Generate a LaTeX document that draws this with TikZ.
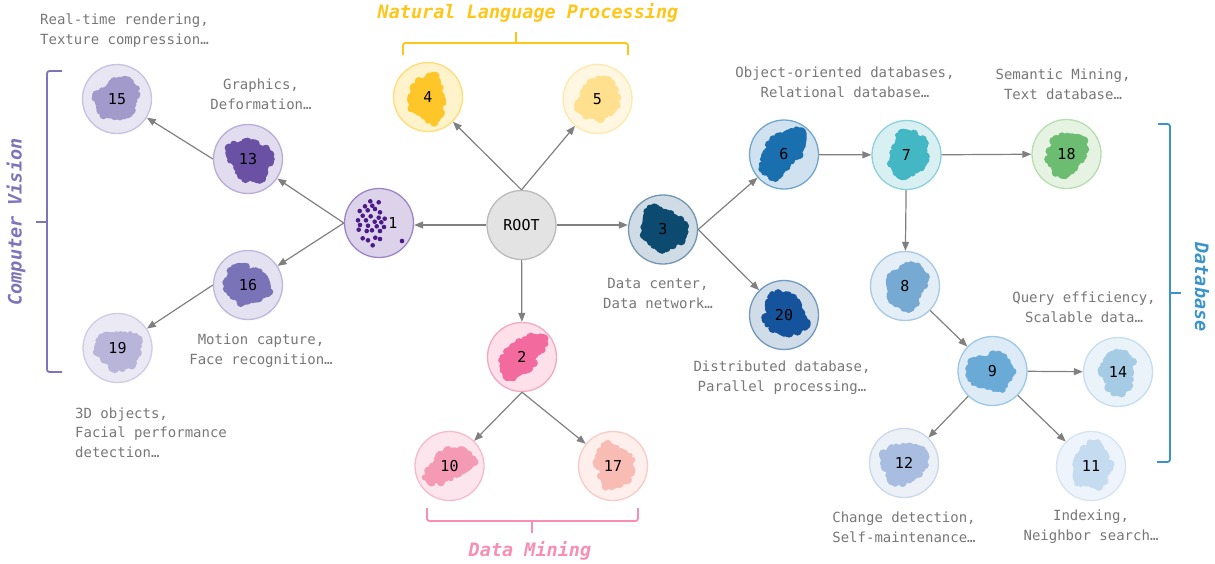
\documentclass[tikz,border=0pt]{standalone}
\usepackage{fontspec}
\setmainfont{DejaVu Sans Mono}
\setmonofont{DejaVu Sans Mono}
\usetikzlibrary{arrows.meta}

\pgfdeclarelayer{back}
\pgfsetlayers{back,main}

% palette
\definecolor{arrowgray}{HTML}{808080}
\definecolor{notegray}{HTML}{777777}
\definecolor{nlpc}{HTML}{FFC61A}
\definecolor{cvc}{HTML}{7D74B9}
\definecolor{dbc}{HTML}{3A93C9}
\definecolor{dmc}{HTML}{F78FB0}
% node fill / border / cloud
\definecolor{f15}{HTML}{E8E6F2}\definecolor{b15}{HTML}{C8C1E0}\definecolor{k15}{HTML}{A29ACA}
\definecolor{f13}{HTML}{E1DCEE}\definecolor{b13}{HTML}{B9ADD7}\definecolor{k13}{HTML}{6A51A3}
\definecolor{f1}{HTML}{DCD3EA}\definecolor{b1}{HTML}{9E84C6}\definecolor{k1}{HTML}{4B1A88}
\definecolor{f16}{HTML}{E4E2F1}\definecolor{b16}{HTML}{BEB8DC}\definecolor{k16}{HTML}{7B73B8}
\definecolor{f19}{HTML}{EAE9F4}\definecolor{b19}{HTML}{D0CCE5}\definecolor{k19}{HTML}{B8B4DA}
\definecolor{f4}{HTML}{FFF3CC}\definecolor{b4}{HTML}{FFDC75}\definecolor{k4}{HTML}{FFC629}
\definecolor{f5}{HTML}{FFF7E1}\definecolor{b5}{HTML}{FFE8AC}\definecolor{k5}{HTML}{FFE08F}
\definecolor{froot}{HTML}{E3E3E3}\definecolor{broot}{HTML}{BBBBBB}
\definecolor{f3}{HTML}{CFDCE6}\definecolor{b3}{HTML}{7396B1}\definecolor{k3}{HTML}{0D4A70}
\definecolor{f2}{HTML}{FDE0EA}\definecolor{b2}{HTML}{F5A8C2}\definecolor{k2}{HTML}{F36A9E}
\definecolor{f10}{HTML}{FCE5EC}\definecolor{b10}{HTML}{F7BACC}\definecolor{k10}{HTML}{F59AB4}
\definecolor{f17}{HTML}{FEEEEC}\definecolor{b17}{HTML}{FACAC5}\definecolor{k17}{HTML}{F8BCB5}
\definecolor{f6}{HTML}{D0E2EF}\definecolor{b6}{HTML}{72A6CD}\definecolor{k6}{HTML}{1A6FAF}
\definecolor{f7}{HTML}{D9F0F3}\definecolor{b7}{HTML}{8DD1DB}\definecolor{k7}{HTML}{43B7C4}
\definecolor{f18}{HTML}{E6F3E3}\definecolor{b18}{HTML}{B7DEAF}\definecolor{k18}{HTML}{6CBD72}
\definecolor{f20}{HTML}{D0DCE8}\definecolor{b20}{HTML}{7199BF}\definecolor{k20}{HTML}{15549C}
\definecolor{f8}{HTML}{E3EEF7}\definecolor{b8}{HTML}{A9C9E3}\definecolor{k8}{HTML}{77AAD2}
\definecolor{f9}{HTML}{DDEBF6}\definecolor{b9}{HTML}{9EC7E5}\definecolor{k9}{HTML}{6AAAD7}
\definecolor{f14}{HTML}{EAF3FA}\definecolor{b14}{HTML}{C5DDEF}\definecolor{k14}{HTML}{A5CCE4}
\definecolor{f12}{HTML}{ECF1F8}\definecolor{b12}{HTML}{CBD8E9}\definecolor{k12}{HTML}{A8BDDF}
\definecolor{f11}{HTML}{EEF4FB}\definecolor{b11}{HTML}{D5E3F2}\definecolor{k11}{HTML}{C5DBF0}

% disc behind a cluster node
\newcommand\disc[2]{\fill[#2] (#1.center) circle [radius=34.5pt];}

% irregular point-cloud blob: node, colour, seed, x radius, y radius, rotation, offset
\newcommand\cloud[7]{%
  \begin{scope}[shift={(#1.center)}, shift={(#7)}, rotate=#6]
    \pgfmathsetseed{#3}%
    \pgfmathsetmacro\pha{360*rnd}%
    \pgfmathsetmacro\phb{360*rnd}%
    \pgfmathsetmacro\phc{360*rnd}%
    \fill[#2] plot[domain=0:355, samples=72, smooth cycle, variable=\t]
      ({#4*(1+0.11*sin(2*\t+\pha)+0.09*sin(3*\t+\phb)+0.06*sin(5*\t+\phc))*cos(\t)},
       {#5*(1+0.11*sin(2*\t+\pha)+0.09*sin(3*\t+\phb)+0.06*sin(5*\t+\phc))*sin(\t)});
    \foreach \k in {1,...,46}{%
      \pgfmathsetmacro\ang{360*rnd}%
      \pgfmathsetmacro\mo{(0.86+0.12*rnd)*(1+0.11*sin(2*\ang+\pha)+0.09*sin(3*\ang+\phb)+0.06*sin(5*\ang+\phc))}%
      \pgfmathsetmacro\sz{2+2.6*rnd}%
      \fill[#2] ({\mo*#4*cos(\ang)},{\mo*#5*sin(\ang)}) circle [radius=\sz pt];
    }%
  \end{scope}}

\tikzset{
  cl/.style={circle, minimum size=69pt, inner sep=0pt, line width=1.3pt,
    font=\fontsize{15}{15}\selectfont, text=black},
  dot/.style={fill=k1},
  arr/.style={draw=arrowgray, line width=1.2pt, -{Triangle[length=9pt,width=7pt]}},
  note/.style={text=notegray, font=\fontsize{14}{19.5}\selectfont, align=center, inner sep=0pt},
  title/.style={font=\fontsize{18.5}{20}\selectfont\bfseries\itshape, inner sep=0pt},
  brace/.style={line width=1.8pt, rounded corners=2.5pt}
}

\begin{document}
\begin{tikzpicture}[x=1pt,y=-1pt]
\useasboundingbox (0,0) rectangle (1215,563);

% ---- cluster nodes ----
\node[cl, fill=froot, draw=broot] (root) at (521.5,225) {ROOT};

\node[cl, draw=b1] (n1) at (379,223) {\hspace*{28pt}1};
\node[cl, draw=b13] (n13) at (248,159) {13};
\node[cl, draw=b15] (n15) at (117,99) {15};
\node[cl, draw=b16] (n16) at (248,285) {16};
\node[cl, draw=b19] (n19) at (117.5,348) {19};
\node[cl, draw=b4] (n4) at (428,97) {4};
\node[cl, draw=b5] (n5) at (597.5,99) {5};
\node[cl, draw=b2] (n2) at (522,357) {2};
\node[cl, draw=b10] (n10) at (449.5,466) {10};
\node[cl, draw=b17] (n17) at (613,466) {17};
\node[cl, draw=b3] (n3) at (663,229.5) {3};
\node[cl, draw=b6] (n6) at (784,154.5) {6};
\node[cl, draw=b7] (n7) at (906.5,155) {7};
\node[cl, draw=b18] (n18) at (1066.5,154) {18};
\node[cl, draw=b20] (n20) at (784,315) {20};
\node[cl, draw=b8] (n8) at (905,286) {8};
\node[cl, draw=b9] (n9) at (992.5,371) {9};
\node[cl, draw=b14] (n14) at (1118,372) {14};
\node[cl, draw=b12] (n12) at (904,463) {12};
\node[cl, draw=b11] (n11) at (1091,466) {11};

% ---- discs and point clouds underneath ----
\begin{pgfonlayer}{back}
  \disc{n1}{f1}
  \foreach \p in {(-8.7,-21.7),(-0.3,-20.7),(-14,-16.7),(-6.7,-17.3),(-19.3,-12),
      (-11.3,-12.7),(-4,-14),(1,-10.7),(-16.3,-7.3),(-8.3,-6.7),(-0.3,-5.3),(5.7,-4.3),
      (-21,-2.7),(-13,-2.7),(-4.3,-1.3),(2.3,-0.7),(-19,2),(-11,2.7),(-2.3,3.3),(5,4),
      (-20.3,6.7),(-12.3,8),(-7,7.3),(1,8),(-16.3,15.3),(-11,17.3),(-3.7,14.7),(1,16),
      (-6.3,22.3),(23,18)}
    \fill[dot] ([shift={\p}]n1.center) circle [radius=2.3pt];

  \disc{n13}{f13}\cloud{n13}{k13}{13}{21}{21}{0}{2,1}
  \disc{n15}{f15}\cloud{n15}{k15}{15}{20}{21}{0}{0,0}
  \disc{n16}{f16}\cloud{n16}{k16}{16}{21}{20}{0}{-1,-1}
  \disc{n19}{f19}\cloud{n19}{k19}{19}{20}{21}{0}{1,2}
  \disc{n4}{f4}\cloud{n4}{k4}{4}{19}{21}{0}{-1,2}
  \disc{n5}{f5}\cloud{n5}{k5}{5}{20}{21}{0}{1,0}
  \disc{n2}{f2}\cloud{n2}{k2}{2}{27}{15}{40}{0,-1}
  \disc{n10}{f10}\cloud{n10}{k10}{10}{26}{14}{35}{0,0}
  \disc{n17}{f17}\cloud{n17}{k17}{17}{20}{20}{0}{1,0}
  \disc{n3}{f3}\cloud{n3}{k3}{3}{21}{22}{0}{0,0}
  \disc{n6}{f6}\cloud{n6}{k6}{6}{27}{17}{52}{-1,-2}
  \disc{n7}{f7}\cloud{n7}{k7}{21}{20}{22}{0}{2,0}
  \disc{n18}{f18}\cloud{n18}{k18}{18}{19}{21}{0}{0,0}
  \disc{n20}{f20}\cloud{n20}{k20}{20}{21}{21}{0}{1,0}
  \disc{n8}{f8}\cloud{n8}{k8}{8}{20}{22}{0}{1,0}
  \disc{n9}{f9}\cloud{n9}{k9}{9}{21}{20}{0}{-1,1}
  \disc{n14}{f14}\cloud{n14}{k14}{14}{17}{20}{0}{0,0}
  \disc{n12}{f12}\cloud{n12}{k12}{12}{21}{21}{0}{0,0}
  \disc{n11}{f11}\cloud{n11}{k11}{11}{20}{21}{0}{1,0}
\end{pgfonlayer}

% ---- connectors ----
\draw[arr] (root.west) -- (root.west -| n1.east);
\draw[arr] (root.north) -- (n4);
\draw[arr] (root.north) -- (n5);
\draw[arr] (root.east) -- (root.east -| n3.west);
\draw[arr] (root) -- (n2);
\draw[arr] (n1.west) -- (n13);
\draw[arr] (n1.west) -- (n16);
\draw[arr] (n13.west) -- (n15);
\draw[arr] (n16.west) -- (n19);
\draw[arr] (n2.south) -- (n10);
\draw[arr] (n2.south) -- (n17);
\draw[arr] (n3.east) -- (n6);
\draw[arr] (n3.east) -- (n20);
\draw[arr] (n6) -- (n7);
\draw[arr] (n7) -- (n18);
\draw[arr] (n7) -- (n8);
\draw[arr] (n8) -- (n9);
\draw[arr] (n9) -- (n14);
\draw[arr] (n9) -- (n12);
\draw[arr] (n9) -- (n11);

% ---- notes ----
\node[note] (t15) at (124.5,30.5) {Real-time rendering,\\Texture compression…};
\node[note] (t13) at (261,94.5) {Graphics,\\Deformation…};
\node[note] (t16) at (261,350.5) {Motion capture,\\Face recognition…};
\node[note, align=left, anchor=west] (t19) at (75,432.5) {3D objects,\\Facial performance\\detection…};
\node[note] (t3) at (658,293.5) {Data center,\\Data network…};
\node[note] (t6) at (845,82.5) {Object-oriented databases,\\Relational database…};
\node[note] (t18) at (1063,84.5) {Semantic Mining,\\Text database…};
\node[note] (t20) at (782,377.5) {Distributed database,\\Parallel processing…};
\node[note] (t14) at (1084,307.5) {Query efficiency,\\Scalable data…};
\node[note] (t12) at (904,527.5) {Change detection,\\Self-maintenance…};
\node[note] (t11) at (1091,526.5) {Indexing,\\Neighbor search…};

% ---- group brackets and titles ----
\draw[brace, nlpc] (403,55) -- (403,43) -- (628,43) -- (628,55);
\draw[brace, nlpc] (516,43) -- (516,32);
\node[title, text=nlpc] (tnlp) at (528,13) {Natural Language Processing};

\draw[brace, cvc] (62,71) -- (47,71) -- (47,372) -- (62,372);
\draw[brace, cvc] (47,222) -- (36,222);
\node[title, text=cvc, rotate=90] (tcv) at (16,222) {Computer Vision};

\draw[brace, dbc] (1158,124) -- (1170,124) -- (1170,462) -- (1157,462);
\draw[brace, dbc] (1170,293) -- (1181,293);
\node[title, text=dbc, rotate=-90] (tdb) at (1202,287) {Database};

\draw[brace, dmc] (427,508) -- (427,521) -- (638,521) -- (638,508);
\draw[brace, dmc] (532,521) -- (532,533);
\node[title, text=dmc] (tdm) at (530,551) {Data Mining};
\end{tikzpicture}
\end{document}
